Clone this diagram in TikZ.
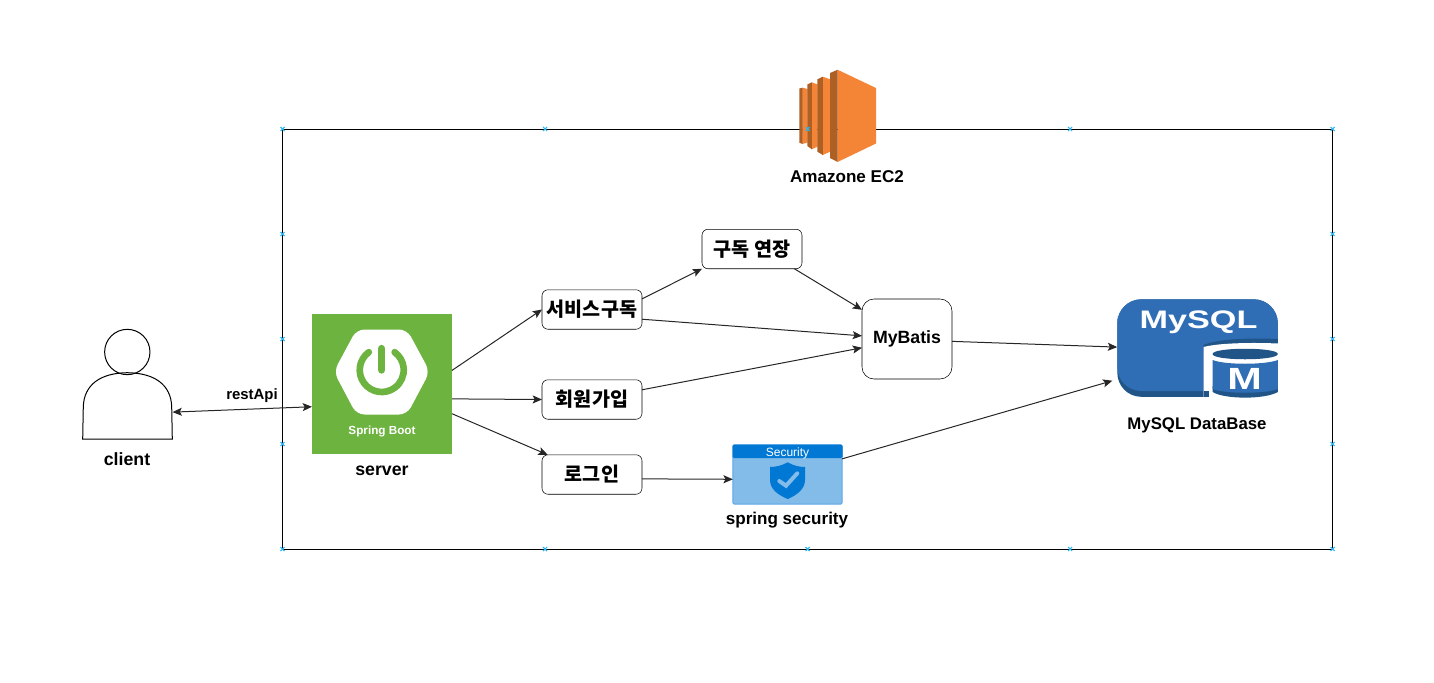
\documentclass[tikz,border=0pt]{standalone}
\usepackage{fontspec}
\setmainfont{Liberation Sans}
\newfontfamily\kofont{Noto Sans CJK KR}
\usetikzlibrary{positioning,arrows.meta}
\definecolor{springgreen}{HTML}{6DB33F}
\definecolor{ecorange}{HTML}{F58536}
\definecolor{ecdark}{HTML}{AE5F24}
\definecolor{sqlblue}{HTML}{2F6EB5}
\definecolor{sqldark}{HTML}{215487}
\definecolor{secblue}{HTML}{0078D4}
\definecolor{seclight}{HTML}{83BBE9}
\definecolor{secedge}{HTML}{5EA7E6}
\definecolor{markblue}{HTML}{29B6F2}
\tikzset{
	txt/.style={font=\fontsize{#1}{15}\selectfont\bfseries,inner sep=0pt},
	txt/.default=13,
	step box/.style={draw,rounded corners=4.5pt,fill=white,minimum width=75pt,minimum height=29.6pt,inner sep=0pt,outer sep=0pt,font=\fontsize{14.7}{16}\selectfont\kofont\bfseries},
	icon/.style={inner sep=0pt,outer sep=0pt,minimum width=#1},
	link/.style={-{Stealth[length=7pt,width=6pt,inset=1.5pt]},line width=0.75pt,black!85},
	xmark/.style={markblue,line width=0.8pt}
}
\begin{document}
\begin{tikzpicture}[x=0.75pt,y=-0.75pt]
\useasboundingbox (0,0) rectangle (1434,682);

\draw[line width=0.75pt] (282.5,129) rectangle (1332.5,549);

% ec2 icon
\fill[ecorange] (802.3,87.7)--(807.5,89)--(807.5,142.5)--(802.3,144)--cycle;
\fill[ecdark] (799.3,88.5)--(802.5,87.7)--(802.5,144)--(799.3,142.7)--cycle;
\fill[ecorange] (811.7,82.3)--(817.5,84.5)--(817.5,146.7)--(811.7,149.3)--cycle;
\fill[ecdark] (807.3,84.5)--(811.9,82.3)--(811.9,149.3)--(807.3,146)--cycle;
\fill[ecorange] (822.7,76.7)--(830.2,79.3)--(830.2,151.7)--(822.7,155)--cycle;
\fill[ecdark] (817.3,79.3)--(822.9,76.7)--(822.9,155)--(817.3,151.7)--cycle;
\fill[ecorange] (837.5,69.7)--(876,88)--(876,143.5)--(837.5,162)--cycle;
\fill[ecdark] (830,73)--(837.7,69.7)--(837.7,162)--(830,158)--cycle;

\foreach \x/\y in {282.5/129,545/129,807.5/129,1070/129,1332.5/129,282.5/234,1332.5/234,282.5/339,1332.5/339,282.5/444,1332.5/444,282.5/549,545/549,807.5/549,1070/549,1332.5/549}
	\draw[xmark] (\x-2,\y-2)--(\x+2,\y+2) (\x-2,\y+2)--(\x+2,\y-2);

% client
\node[icon=67.5pt,minimum height=82.5pt] (user) at (127.5,384) {};
\draw[line width=0.75pt] (127.3,352) circle (17pt);
\draw[line width=0.75pt] (82.7,439)--(83.3,406.7) .. controls (84,385) and (100,373) .. (127.3,372.7) .. controls (155,373) and (171,385) .. (171.7,406.7)--(172.3,439)--cycle;

% spring boot
\node[icon=105pt,minimum height=105pt,fill=springgreen] (srv) at (382,384) {};
\fill[white,rounded corners=6pt] (333.8,371.7)--(356.5,329.5)--(407,329.5)--(429.8,371.7)--(407,414.5)--(356.5,414.5)--cycle;
\draw[springgreen,line width=5pt,line cap=round] (368.8,352.2) arc[start angle=126,end angle=414,radius=16.5pt];
\draw[springgreen,line width=5.5pt,line cap=round] (381.7,348.5)--(381.7,370);
\node[white,font=\fontsize{8.8}{10}\selectfont\bfseries,inner sep=0pt] (srvname) at (382,431) {Spring Boot};

% step boxes
\node[step box] (svc) at (592,309.5) {\raisebox{0.75pt}{서비스구독}};
\node[step box] (join) at (592,399.5) {\raisebox{1.5pt}{회원가입}};
\node[step box] (login) at (592,474.5) {\raisebox{0.75pt}{로그인}};
\node[step box] (extend) at (752,249) {\raisebox{1.5pt}{구독 연장}};
\node[draw,rounded corners=9pt,minimum width=67.5pt,minimum height=60pt,outer sep=0pt,txt=13.3] (batis) at (907,339) {\raisebox{-0.75pt}{MyBatis}};

% security
\node[icon=82pt,minimum height=44.5pt,rounded corners=1pt,fill=seclight,draw=secedge,line width=0.75pt] (sec) at (787.5,474.5) {};
\fill[secblue,rounded corners=1pt] (732.5,444.5) rectangle (842.5,458);
\node[white,font=\fontsize{9}{10}\selectfont,inner sep=0pt] (secname) at (787.5,453) {Security};
\fill[secblue] (787.7,462.3) .. controls (793,465.5) and (799,467) .. (805,467)--(805,480) .. controls (805,489) and (797,495) .. (787.7,499) .. controls (778,495) and (770,489) .. (770,480)--(770,467) .. controls (776,467) and (782,465.5) .. (787.7,462.3)--cycle;
\draw[seclight,line width=3pt,line cap=round] (779.3,481)--(786,485.7)--(797.3,473.3);

% mysql
\node[icon=120.5pt,minimum height=74.5pt] (mysql) at (1197.5,348.5) {};
\fill[sqldark,rounded corners=18pt] (1117.3,348)--(1117.3,299.3)--(1277.8,299.3)--(1277.8,396.8)--(1117.3,396.8)--cycle;
\fill[sqlblue,rounded corners=18pt] (1117.3,340)--(1117.3,299.3)--(1277.8,299.3)--(1277.8,350)--(1277.8,391)--(1117.3,391)--cycle;
\fill[sqldark] (1203.5,352) -- (1203.5,345) .. controls (1215,340) and (1240,337.5) .. (1277.8,339)--(1277.8,352)--cycle;
\fill[white] (1203.5,399) -- (1203.5,347) .. controls (1215,344) and (1240,342) .. (1278.5,343.5)--(1278.5,399)--cycle;
\fill[sqldark] (1203.5,391) rectangle (1209,396.8);
\fill[white] (1209,391) rectangle (1212.5,399);
\fill[sqldark] (1212.5,392)--(1212.5,386) .. controls (1225,390) and (1265,390) .. (1277.8,386)--(1277.8,392) .. controls (1265,399.5) and (1225,399.5) .. (1212.5,392)--cycle;
\fill[sqlblue] (1212.5,360) .. controls (1225,365) and (1265,365) .. (1277.8,360)--(1277.8,389) .. controls (1265,394) and (1225,394) .. (1212.5,389)--cycle;
\fill[sqldark] (1212.5,354) .. controls (1212.5,347) and (1277.8,347) .. (1277.8,354) .. controls (1277.8,361) and (1212.5,361) .. (1212.5,354)--cycle;
\node[white,font=\fontsize{19}{20}\selectfont\bfseries,inner sep=0pt] (sqlname) at (1198.5,322.5) {\scalebox{1.35}[1]{MySQL}};
\node[white,font=\fontsize{23}{26}\selectfont\bfseries,inner sep=0pt] (sqlm) at (1244.5,379) {\scalebox{1.35}[1]{M}};

% labels
\node[txt=12.8] (ecname) at (847,177) {Amazone EC2};
\node[txt=13.3] (username) at (127,459) {client};
\node[txt=13.3] (server) at (382,470.5) {server};
\node[txt=12.8] (secname2) at (787,520) {spring security};
\node[txt=12.6] (dbname) at (1197,425.5) {MySQL DataBase};
\node[txt=11.2] (rest) at (252,395.5) {restApi};

\draw[link,{Stealth[length=7pt,width=6pt,inset=1.5pt]}-{Stealth[length=7pt,width=6pt,inset=1.5pt]}] (user.-32)--(srv.198);
\foreach \x/\y in {srv.11/svc.180,srv.-12.4/join.180,srv.-23/login.156,svc.12/extend.south west,svc.-11/batis.176,join.11/batis.191,extend.-25/batis.147,login.-5.5/sec.185,batis.-3/mysql.179}
	\draw[link] (\x)--(\y);
\draw[link,shorten >=3.75pt] (sec.16)--(mysql.201);
\end{tikzpicture}
\end{document}
